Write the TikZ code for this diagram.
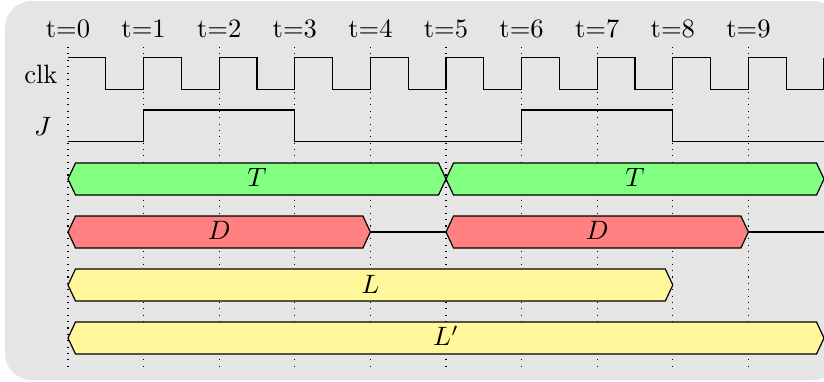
\documentclass[tikz,border=0pt]{standalone}
\definecolor{bgray}{RGB}{229,229,229}
\definecolor{tgreen}{RGB}{128,255,128}
\definecolor{dred}{RGB}{255,128,128}
\definecolor{lyellow}{RGB}{255,247,153}
\newcommand\busbar[4]{%
  \filldraw[bus,fill=#4] ({68+75.6*#1},#3) -- ({68+75.6*#1+7.5},#3-16) -- ({68+75.6*#2-7.5},#3-16)
    -- ({68+75.6*#2},#3) -- ({68+75.6*#2-7.5},#3+16) -- ({68+75.6*#1+7.5},#3+16) -- cycle;}
\begin{document}
\begin{tikzpicture}[x=0.3765pt,y=-0.3765pt,
  sig/.style={draw=black,line width=0.5pt},
  bus/.style={draw=black,line width=0.45pt,line join=miter},
  gridln/.style={dotted,line width=0.4pt,black},
  tlab/.style={anchor=base,inner sep=0pt},
  slab/.style={anchor=base east,inner sep=0pt},
  blab/.style={inner sep=0pt}]
\useasboundingbox (0,0) rectangle (824,381);
\fill[bgray,rounded corners=10] (5,1) rectangle (840,380);
% grid
\foreach \i in {0,...,9} {
  \draw[gridln] ({68+75.6*\i},47) -- ({68+75.6*\i},367);
  \node[tlab] (t\i) at ({68+75.6*\i},37.5) {t=\i};
}
% labels
\node[slab] (clk) at (58,83) {clk};
\node[slab] (J) at (52,135) {$J$};
% clock
\draw[sig] (68,57.5)
  \foreach \i in {0,...,9} {
    -- ({68+75.6*\i+37.8},57.5) -- ({68+75.6*\i+37.8},89.5) -- ({68+75.6*\i+75.6},89.5) -- ({68+75.6*\i+75.6},57.5)
  };
% J
\draw[sig] (68,141.5) -- ({68+75.6},141.5) -- ({68+75.6},110) -- ({68+75.6*3},110) -- ({68+75.6*3},141.5)
  -- ({68+75.6*6},141.5) -- ({68+75.6*6},110) -- ({68+75.6*8},110) -- ({68+75.6*8},141.5) -- ({68+75.6*10},141.5);
% T
\busbar{0}{5}{179}{tgreen}
\busbar{5}{10}{179}{tgreen}
\node[blab] (T1) at ({68+75.6*2.5},177) {$T$};
\node[blab] (T2) at ({68+75.6*7.5},177) {$T$};
% D
\draw[sig] ({68+75.6*4},232) -- ({68+75.6*5},232);
\draw[sig] ({68+75.6*9},232) -- ({68+75.6*10},232);
\busbar{0}{4}{232}{dred}
\busbar{5}{9}{232}{dred}
\node[blab] (D1) at ({68+75.6*2},230) {$D$};
\node[blab] (D2) at ({68+75.6*7},230) {$D$};
% L
\busbar{0}{8}{285}{lyellow}
\node[blab] (L) at ({68+75.6*4},284) {$L$};
% L'
\busbar{0}{10}{338}{lyellow}
\node[blab] (Lp) at ({68+75.6*5},336) {$L'$};
\end{tikzpicture}
\end{document}
